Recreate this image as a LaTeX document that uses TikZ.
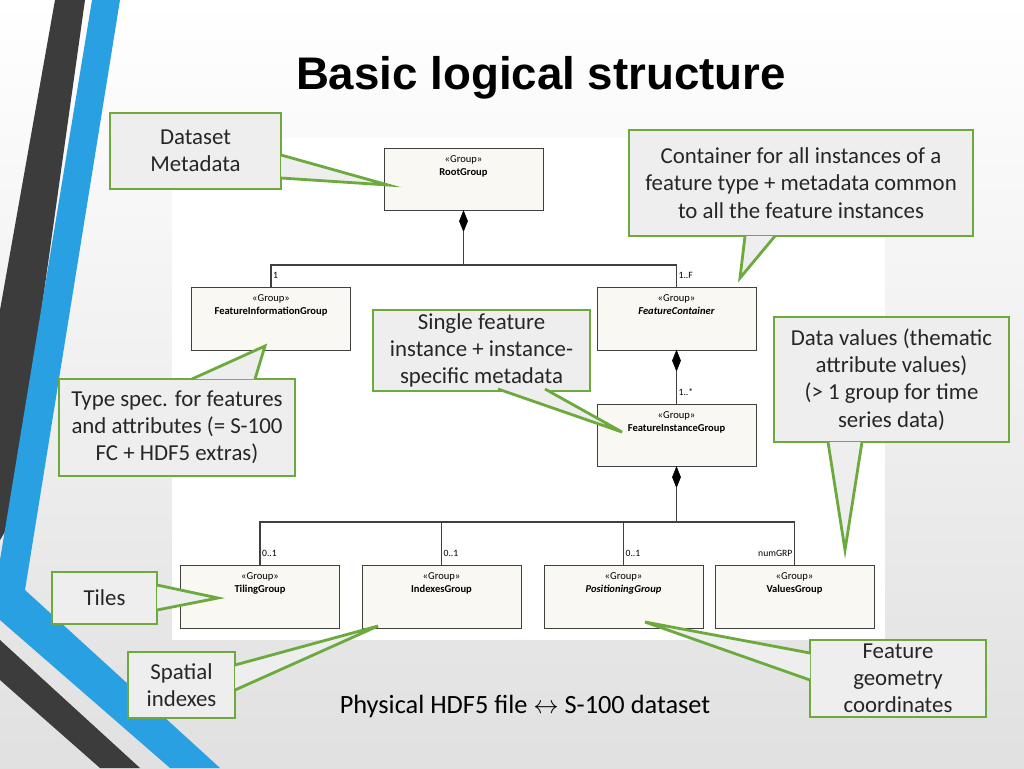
\documentclass[tikz,border=0pt]{standalone}
\usepackage{fontspec}
\setmainfont{Carlito}
\newfontfamily\titlefont{Liberation Sans}
\usetikzlibrary{calc,positioning}
\definecolor{callGreen}{RGB}{108,170,62}
\definecolor{callFill}{RGB}{238,238,238}
\definecolor{boxFill}{RGB}{250,248,242}
\definecolor{stripeBlue}{RGB}{40,160,225}
\definecolor{stripeDark}{RGB}{60,60,60}
\tikzset{
	umlBox/.style={
		,	draw=black!75
		,	fill=boxFill
		,	minimum width=3.18cm
		,	minimum height=1.25cm
		,	inner sep=0pt
	},
	umlText/.style={
		,	anchor=north
		,	yshift=-3pt
		,	align=center
		,	font=\fontsize{6}{7.5}\selectfont
		,	inner sep=1pt
	},
	mult/.style={
		,	font=\fontsize{5.5}{6}\selectfont
		,	anchor=west
		,	inner sep=1pt
	},
	callout/.style={
		,	draw=callGreen
		,	fill=callFill
		,	line width=1.6pt
		,	align=center
		,	inner sep=2pt
		,	font=\fontsize{13}{15.5}\selectfont
		,	text=black!85
	},
	pointer/.style={
		,	fill=callFill
	},
	pointerLine/.style={
		,	draw=callGreen
		,	line width=1.6pt
		,	line join=miter
	},
	link/.style={draw=black!75, line width=0.6pt},
	compo/.style={fill=black, draw=black}
}
\newcommand{\diam}[1]{\fill[compo] ($(#1)$) -- ++(4,10) -- ++(-4,10) -- ++(-4,-10) -- cycle;}
\begin{document}
\begin{tikzpicture}[x=0.02cm, y=-0.02cm]
\useasboundingbox (0,0) rectangle (1024,768);
% background and stripes
\shade[top color=white, bottom color=black!12] (0,0) rectangle (1024,768);
\fill[stripeDark] (55,0) -- (85,0) -- (12,520) -- (0,540) -- (0,310) -- cycle;
\fill[stripeBlue] (92,0) -- (120,0) -- (25,590) -- (0,600) -- (0,560) -- cycle;
\fill[stripeBlue] (0,585) -- (25,590) -- (220,768) -- (170,768) -- (0,620) -- cycle;
\fill[stripeDark] (0,640) -- (140,768) -- (100,768) -- (0,680) -- cycle;
\fill[white] (172,138) rectangle (885,640);

\node[font=\titlefont\bfseries\fontsize{26}{30}\selectfont] (title) at (541,78) {Basic logical structure};

% uml boxes
\node[umlBox, label={[umlText]north:{«Group»\\\textbf{RootGroup}}}] (root) at (463.5,179.5) {};
\node[umlBox, label={[umlText]north:{«Group»\\\textbf{FeatureInformationGroup}}}] (fig) at (271,319) {};
\node[umlBox, label={[umlText]north:{«Group»\\\textbf{\textit{FeatureContainer}}}}] (fc) at (676.5,319) {};
\node[umlBox, label={[umlText]north:{«Group»\\\textbf{FeatureInstanceGroup}}}] (fin) at (676.5,435.5) {};
\node[umlBox, label={[umlText]north:{«Group»\\\textbf{TilingGroup}}}] (tile) at (260,597) {};
\node[umlBox, label={[umlText]north:{«Group»\\\textbf{IndexesGroup}}}] (idx) at (441.5,597) {};
\node[umlBox, label={[umlText]north:{«Group»\\\textbf{\textit{PositioningGroup}}}}] (pos) at (623.5,597) {};
\node[umlBox, label={[umlText]north:{«Group»\\\textbf{ValuesGroup}}}] (val) at (794.5,597) {};

% compositions
\coordinate (j1) at (463.5,265);
\coordinate (j2) at (676.5,522);
\diam{root.south}
\diam{fc.south}
\diam{fin.south}
\draw[link] ($(root.south)+(0,20)$) -- (j1);
\draw[link] (fig.north) |- (j1) -| (fc.north);
\draw[link] ($(fc.south)+(0,20)$) -- (fin.north);
\draw[link] ($(fin.south)+(0,20)$) -- (j2);
\draw[link] (tile.north) |- (j2) -| (val.north);
\draw[link] (idx.north) -- (idx.north |- j2);
\draw[link] (pos.north) -- (pos.north |- j2);
\node[mult] at ($(fig.north)+(0,-12)$) {1};
\node[mult] at ($(fc.north)+(0,-12)$) {1..F};
\node[mult] at ($(fin.north)+(0,-12)$) {1..*};
\node[mult] at ($(tile.north)+(0,-12)$) {0..1};
\node[mult] at ($(idx.north)+(0,-12)$) {0..1};
\node[mult] at ($(pos.north)+(0,-12)$) {0..1};
\node[mult, anchor=east] at ($(val.north)+(0,-12)$) {numGRP};

% callouts
\node[callout, minimum width=3.42cm, minimum height=1.52cm] (meta) at (195.5,151) {Dataset\\Metadata};
\node[callout, minimum width=6.88cm, minimum height=2.12cm] (cont) at (801,183) {Container for all instances of a\\feature type + metadata common\\to all the feature instances};
\node[callout, minimum width=4.34cm, minimum height=1.54cm] (single) at (481.5,350.5) {Single feature\\instance + instance-\\specific metadata};
\node[callout, minimum width=4.7cm, minimum height=2.5cm] (data) at (891.5,379.5) {Data values (thematic\\attribute values)\\(> 1 group for time\\series data)};
\node[callout, minimum width=4.72cm, minimum height=1.94cm] (type) at (177,427.5) {Type spec. for features\\and attributes (= S-100\\FC + HDF5 extras)};
\node[callout, minimum width=2.1cm, minimum height=1.04cm] (tiles) at (104.5,598) {Tiles};
\node[callout, minimum width=2.14cm, minimum height=1.32cm] (spatial) at (181.5,685) {Spatial\\indexes};
\node[callout, minimum width=3.52cm, minimum height=1.54cm] (geom) at (898,678.5) {Feature\\geometry\\coordinates};

\coordinate (tMeta) at (388,185);
\coordinate (tCont) at (740,278);
\coordinate (tSingle) at (622,432);
\coordinate (tData) at (845,550);
\coordinate (tType) at (265,346);
\coordinate (tTiles) at (218,598);
\coordinate (tSpatial) at (378,626);
\coordinate (tGeom) at (645,622);

\foreach \bx/\tip/\a/\b in {
	meta/tMeta/{(281,155)}/{(281,178)},
	cont/tCont/{(775,236)}/{(745,236)},
	single/tSingle/{(498,389)}/{(545,389)},
	data/tData/{(828,442)}/{(862,442)},
	type/tType/{(192,379)}/{(255,379)},
	tiles/tTiles/{(157,585)}/{(157,610)},
	spatial/tSpatial/{(235,665)}/{(235,690)},
	geom/tGeom/{(810,653)}/{(810,680)}} {
	\fill[pointer] \a -- (\tip) -- \b -- cycle;
	\draw[pointerLine] \a -- (\tip) -- \b;
}

\node[font=\fontsize{15}{18}\selectfont] (caption) at (525,706) {Physical HDF5 file $\leftrightarrow$ S-100 dataset};
\end{tikzpicture}
\end{document}
